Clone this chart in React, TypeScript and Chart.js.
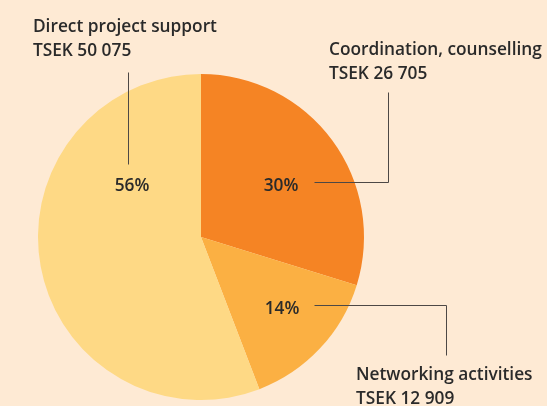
import React, { useEffect, useRef } from "react";
import { Chart, registerables } from "chart.js";

Chart.register(...registerables);

const categories = ["Coordination, counselling", "Networking activities", "Direct project support"];
const values = [26705, 12909, 50075];
const amountLabels = ["TSEK 26 705", "TSEK 12 909", "TSEK 50 075"];
const colors = ["#f58424", "#fbb043", "#fed985"];

const BG = "#feead4";
const TEXT = "#2a2a2a";
const FONT = "600 17.3px 'Open Sans', 'Noto Sans', sans-serif";

// geometry relative to pie center, in units of radius
const pctPos = [
  [0.491, -0.313],
  [0.497, 0.442],
  [-0.423, -0.313],
];
const leaders = [
  [[0.693, -0.337], [1.147, -0.337], [1.147, -0.89]],
  [[0.693, 0.417], [1.503, 0.417], [1.503, 0.724]],
  [[-0.448, -0.448], [-0.448, -1.012]],
];
const labelPos = [
  [0.785, -1.117],
  [0.951, 0.877],
  [-1.031, -1.258],
];

const annotate = {
  id: "annotate",
  beforeDraw(chart: any) {
    const ctx = chart.ctx;
    ctx.save();
    ctx.fillStyle = BG;
    ctx.fillRect(0, 0, chart.width, chart.height);
    ctx.restore();
  },
  afterDraw(chart: any) {
    const ctx = chart.ctx;
    const meta = chart.getDatasetMeta(0);
    const arc = meta.data[0];
    const cx = arc.x, cy = arc.y, r = arc.outerRadius;
    const total = values.reduce((a, b) => a + b, 0);
    ctx.save();
    ctx.strokeStyle = "#4d4845";
    ctx.lineWidth = 1;
    leaders.forEach((pts) => {
      ctx.beginPath();
      pts.forEach((p, i) => {
        const x = Math.round(cx + p[0] * r) + 0.5;
        const y = Math.round(cy + p[1] * r) + 0.5;
        if (i === 0) ctx.moveTo(x, y);
        else ctx.lineTo(x, y);
      });
      ctx.stroke();
    });
    ctx.fillStyle = TEXT;
    ctx.font = FONT;
    ctx.textAlign = "center";
    ctx.textBaseline = "middle";
    values.forEach((v, i) => {
      const pct = Math.round((v / total) * 100) + "%";
      ctx.fillText(pct, cx + pctPos[i][0] * r, cy + pctPos[i][1] * r);
    });
    ctx.textAlign = "left";
    ctx.textBaseline = "alphabetic";
    categories.forEach((c, i) => {
      const x = cx + labelPos[i][0] * r;
      const y = cy + labelPos[i][1] * r;
      ctx.fillText(c, x, y);
      ctx.fillText(amountLabels[i], x, y + 24.5);
    });
    ctx.restore();
  },
};

export default function App() {
  const ref = useRef<HTMLCanvasElement>(null);
  useEffect(() => {
    document.body.style.margin = "0";
    document.body.style.background = BG;
    const chart = new Chart(ref.current!, {
      type: "pie",
      data: {
        labels: categories,
        datasets: [
          {
            data: values,
            backgroundColor: colors,
            borderWidth: 0,
          },
        ],
      },
      options: {
        responsive: false,
        animation: false,
        layout: { padding: { left: 38, right: 183, top: 74, bottom: 6 } },
        plugins: {
          legend: { display: false },
          tooltip: { enabled: false },
        },
      },
      plugins: [annotate],
    });
    return () => chart.destroy();
  }, []);
  return <canvas ref={ref} width={547} height={406} style={{ display: "block" }} />;
}
